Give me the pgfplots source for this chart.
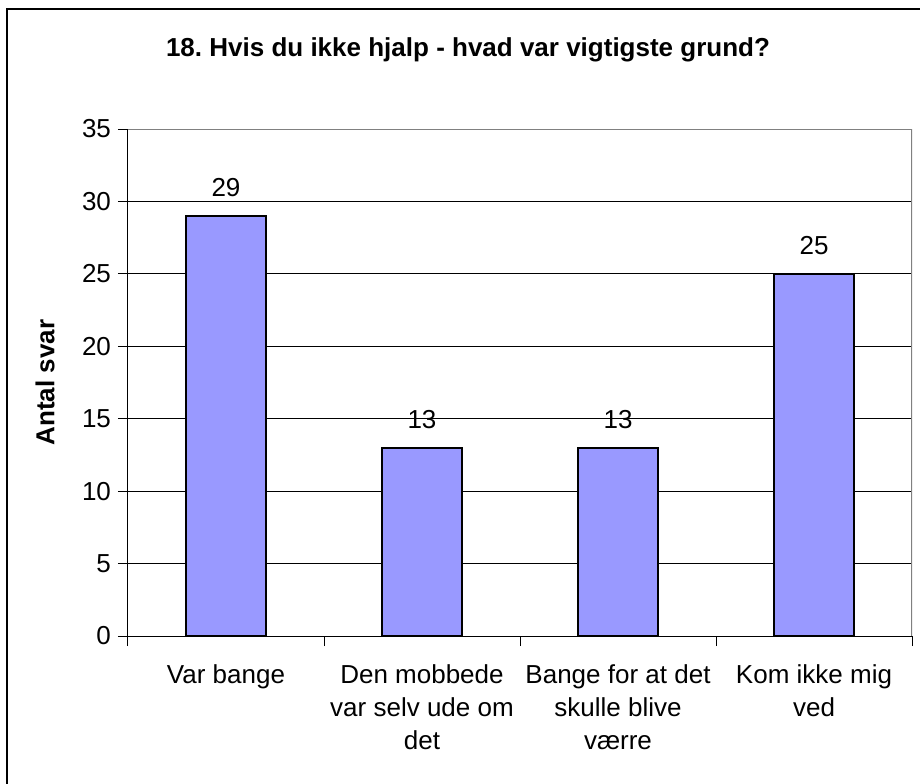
\documentclass[border=0pt]{standalone}
\usepackage{fontspec}
\setmainfont{Liberation Sans}
\usepackage{pgfplots}
\pgfplotsset{compat=1.18}
\definecolor{barblue}{RGB}{153,153,255}
\definecolor{frame}{RGB}{128,128,128}

\begin{document}
\begin{tikzpicture}
\useasboundingbox (-64pt,-73.5pt) rectangle (396pt,318pt);
% outer chart frame (only left and top are inside the picture)
\draw[black, line width=0.6pt] (-60.5pt,-80pt) -- (-60.5pt,313.5pt) -- (400pt,313.5pt);
\node[anchor=base, font=\fontsize{13}{15}\selectfont\bfseries] at (170pt,289.5pt)
  {18.\ Hvis du ikke hjalp - hvad var vigtigste grund?};
\begin{axis}[
  at={(0,0)}, anchor=south west,
  scale only axis, width=392pt, height=253.5pt,
  axis lines=left, axis line style={-, black, line width=0.5pt},
  xmin=-0.5, xmax=3.5, ymin=0, ymax=35,
  ytick={0,5,...,35},
  xtick={0,1,2,3},
  xticklabels={Var bange,
    Den mobbede\\var selv ude om\\det,
    Bange for at det\\skulle blive\\værre,
    Kom ikke mig\\ved},
  major x tick style={draw=none},
  minor xtick={-0.5,0.5,1.5,2.5,3.5},
  minor tick length=5pt, major tick length=5pt,
  tick align=outside, tick style={black, line width=0.5pt},
  ymajorgrids, grid style={black, line width=0.5pt},
  /pgf/number format/assume math mode=true,
  tick label style={font=\fontsize{13}{16.5}\selectfont},
  xticklabel style={align=center, anchor=north, yshift=-6pt},
  ylabel={Antal svar},
  ylabel style={font=\fontsize{13}{15}\selectfont\bfseries, at={(axis description cs:0,0.5)}, anchor=center, yshift=41.5pt},
  nodes near coords,
  every node near coord/.append style={font=\fontsize{13}{15}\selectfont, anchor=base, yshift=9.5pt, black},
]
\addplot[ybar, bar width=0.41, fill=barblue, draw=black, line width=1pt] coordinates {
  (0,29) (1,13) (2,13) (3,25)
};
\draw[frame, line width=0.6pt] (rel axis cs:0,1) -- (rel axis cs:1,1) -- (rel axis cs:1,0);
\end{axis}
\end{tikzpicture}
\end{document}
